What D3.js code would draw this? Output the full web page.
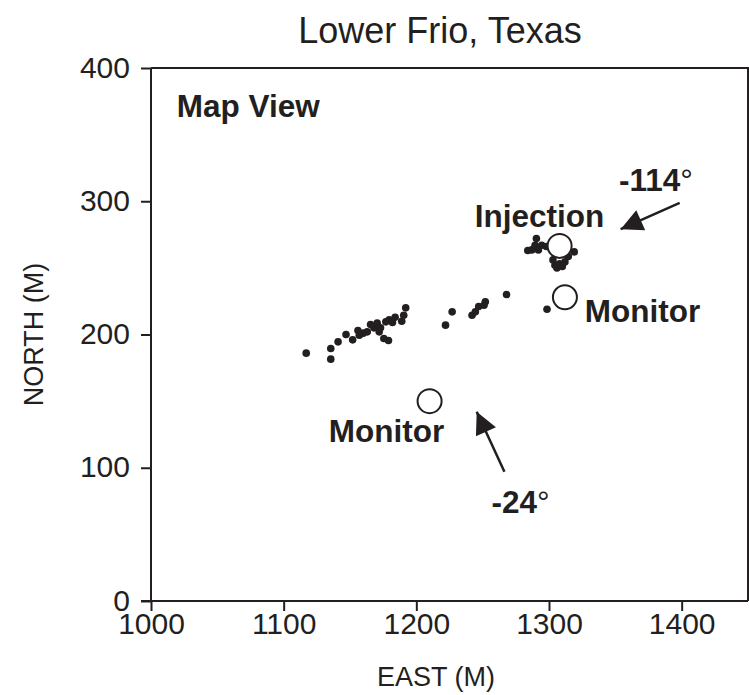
<!DOCTYPE html>
<html>
<head>
<meta charset="utf-8">
<script src="https://cdn.jsdelivr.net/npm/d3@7"></script>
<style>
  body { margin: 0; background: #fff; }
  text { font-family: "Liberation Sans", Arial, sans-serif; fill: #231f20; }
  .tick text { font-size: 30px; }
  .lbl { font-size: 31.5px; font-weight: bold; }
</style>
</head>
<body>
<div id="chart"></div>
<script>
var svgWidth = 749;
var svgHeight = 695;

// event locations (east, north) in metres
var events = [
  [1117, 186], [1135.5, 189.5], [1135.5, 181.5], [1141, 194.5], [1147, 200],
  [1152, 196], [1156, 203], [1157, 199.5], [1160, 201], [1163, 202],
  [1165.5, 207.5], [1168, 205], [1170.5, 208.5], [1172, 202], [1173, 205],
  [1175.5, 197], [1179, 195.5], [1177, 209.5], [1179.5, 211], [1182, 209],
  [1184, 213], [1189, 210], [1190.5, 214.5], [1192, 220],
  [1222, 207], [1227, 217], [1242, 214.5], [1244.5, 217], [1247, 221],
  [1252, 224.5], [1251, 222], [1268, 230], [1298.5, 219],
  [1284, 263], [1287, 263.5], [1290.5, 272], [1289.5, 267], [1292, 263.5],
  [1294.5, 267], [1298, 266], [1303, 256], [1304.5, 252], [1308, 253],
  [1312, 254.5], [1314.5, 258.5], [1319, 262], [1306, 250], [1310, 251]
];

// wells
var wells = [
  { name: "Injection", east: 1308, north: 266.5 },
  { name: "Monitor", east: 1312, north: 228 },
  { name: "Monitor", east: 1210, north: 150 }
];

var xTicks = [1000, 1100, 1200, 1300, 1400];
var yTicks = [0, 100, 200, 300, 400];

// labels placed in data units
var labels = [
  { text: "Map View", east: 1019.5, north: 363 },
  { text: "Injection", east: 1244, north: 281 },
  { text: "Monitor", east: 1327, north: 209.4 },
  { text: "Monitor", east: 1134, north: 119.3 }
];
var angles = [
  { text: "-114", east: 1352.7, north: 307.7 },
  { text: "-24", east: 1256.7, north: 66 }
];
// arrows: tail -> tip
var arrows = [
  [[1398.5, 298.7], [1354, 279]],
  [[1266.4, 97], [1245.5, 142]]
];

var svg = d3.select('#chart')
  .append('svg')
  .attr('width', svgWidth)
  .attr('height', svgHeight);

var xScale = d3.scaleLinear().domain([1000, 1450]).range([151, 748]);
var yScale = d3.scaleLinear().domain([0, 400]).range([601, 68]);

var ink = '#231f20';

svg.append('defs').append('marker')
  .attr('id', 'head')
  .attr('viewBox', '0 0 10 10')
  .attr('refX', 10).attr('refY', 5)
  .attr('markerUnits', 'userSpaceOnUse')
  .attr('markerWidth', 30).attr('markerHeight', 22)
  .attr('orient', 'auto')
  .append('path')
  .attr('d', 'M0,0 L10,5 L0,10 Z')
  .attr('fill', ink);

// frame (top and right)
svg.append('path')
  .attr('d', `M${xScale(1000)},${yScale(400)} H${xScale(1450)} V${yScale(0)}`)
  .attr('fill', 'none')
  .attr('stroke', ink)
  .attr('stroke-width', 2);

var bottomAxis = d3.axisBottom(xScale).tickValues(xTicks).tickSize(10).tickPadding(2).tickFormat(d3.format('d'));
var leftAxis = d3.axisLeft(yScale).tickValues(yTicks).tickSize(10).tickPadding(11).tickFormat(d3.format('d'));

var gx = svg.append('g')
  .attr('transform', `translate(0, ${yScale(0)})`)
  .call(bottomAxis);
var gy = svg.append('g')
  .attr('transform', `translate(${xScale(1000)}, 0)`)
  .call(leftAxis);

[gx, gy].forEach(function(g) {
  g.select('.domain').remove();
  g.selectAll('.tick line').attr('stroke', ink).attr('stroke-width', 2);
  g.selectAll('.tick text').attr('fill', ink);
});
gy.selectAll('.tick text').attr('dy', '0.3em');
gx.append('line')
  .attr('x1', xScale(1000) - 10).attr('x2', xScale(1450))
  .attr('stroke', ink).attr('stroke-width', 2);
gy.append('line')
  .attr('y1', yScale(400)).attr('y2', yScale(0))
  .attr('stroke', ink).attr('stroke-width', 2);

// events
svg.append('g').selectAll('circle')
  .data(events)
  .enter()
  .append('circle')
  .attr('cx', d => xScale(d[0]))
  .attr('cy', d => yScale(d[1]))
  .attr('r', 3.8)
  .attr('fill', ink);

// wells
svg.append('g').selectAll('circle')
  .data(wells)
  .enter()
  .append('circle')
  .attr('cx', d => xScale(d.east))
  .attr('cy', d => yScale(d.north))
  .attr('r', 12)
  .attr('fill', '#fff')
  .attr('stroke', ink)
  .attr('stroke-width', 2);

// arrows
svg.append('g').selectAll('line')
  .data(arrows)
  .enter()
  .append('line')
  .attr('x1', d => xScale(d[0][0]))
  .attr('y1', d => yScale(d[0][1]))
  .attr('x2', d => xScale(d[1][0]))
  .attr('y2', d => yScale(d[1][1]))
  .attr('stroke', ink)
  .attr('stroke-width', 2.5)
  .attr('marker-end', 'url(#head)');

// labels
svg.append('g').selectAll('text')
  .data(labels)
  .enter()
  .append('text')
  .attr('class', 'lbl')
  .attr('x', d => xScale(d.east))
  .attr('y', d => yScale(d.north))
  .text(d => d.text);

var ang = svg.append('g').selectAll('text')
  .data(angles)
  .enter()
  .append('text')
  .attr('class', 'lbl')
  .attr('x', d => xScale(d.east))
  .attr('y', d => yScale(d.north));
ang.append('tspan').text(d => d.text);
ang.append('tspan').attr('font-weight', 'normal').text('\u00b0');

// title and axis titles
svg.append('text')
  .attr('x', 440).attr('y', 43)
  .attr('text-anchor', 'middle')
  .style('font-size', '36px')
  .text('Lower Frio, Texas');

svg.append('text')
  .attr('transform', 'translate(436, 686)')
  .attr('text-anchor', 'middle')
  .style('font-size', '27px')
  .text('EAST (M)');

svg.append('text')
  .attr('transform', `translate(43, ${yScale(200)}) rotate(-90)`)
  .attr('text-anchor', 'middle')
  .style('font-size', '27px')
  .text('NORTH (M)');
</script>
</body>
</html>
